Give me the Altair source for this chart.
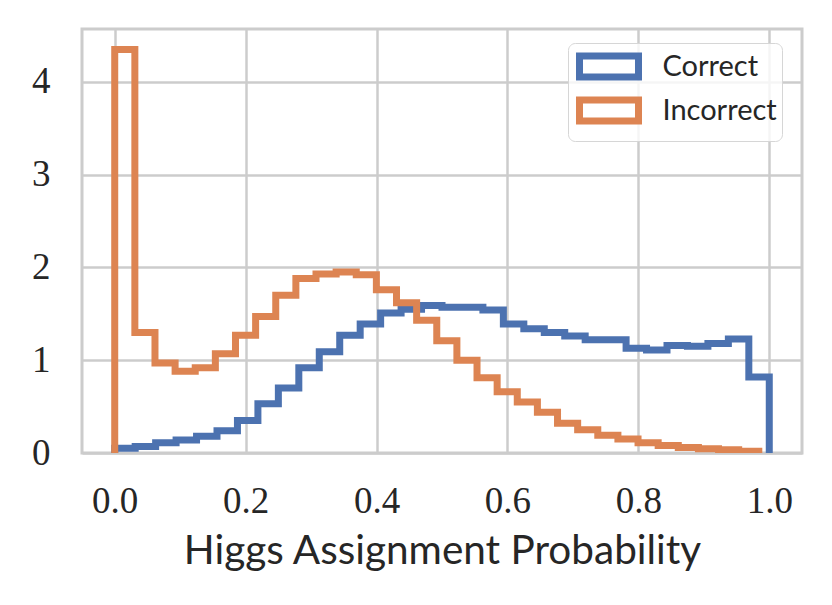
import altair as alt
import numpy as np
import pandas as pd

# Density per bin (32 bins each)
correct_vals = [0.05, 0.07, 0.11, 0.14, 0.18, 0.24, 0.35, 0.53, 0.70, 0.92,
                1.09, 1.27, 1.39, 1.51, 1.55, 1.59, 1.57, 1.57, 1.54, 1.39,
                1.34, 1.30, 1.26, 1.22, 1.22, 1.13, 1.11, 1.16, 1.15, 1.18,
                1.23, 0.82]
incorrect_vals = [4.35, 1.30, 0.97, 0.88, 0.92, 1.07, 1.27, 1.47, 1.70, 1.88,
                  1.93, 1.95, 1.92, 1.76, 1.62, 1.43, 1.21, 1.00, 0.81, 0.66,
                  0.55, 0.44, 0.32, 0.25, 0.19, 0.15, 0.11, 0.08, 0.06, 0.045,
                  0.035, 0.02]
correct_range = [0.0, 1.0]
incorrect_range = [0.0, 0.984]
series_names = ["Correct", "Incorrect"]
series_colors = ["#4c72b0", "#dd8452"]
x_ticks = [0.0, 0.2, 0.4, 0.6, 0.8, 1.0]
y_ticks = [0, 1, 2, 3, 4]


def step_outline(name, vals, rng):
    edges = np.linspace(rng[0], rng[1], len(vals) + 1)
    pts = [(edges[0], 0.0)]
    for i, h in enumerate(vals):
        pts.append((edges[i], h))
        pts.append((edges[i + 1], h))
    pts.append((edges[-1], 0.0))
    return pd.DataFrame({"x": [p[0] for p in pts], "y": [p[1] for p in pts],
                         "idx": list(range(len(pts))), "series": name})


df = pd.concat([
    step_outline("Correct", correct_vals, correct_range),
    step_outline("Incorrect", incorrect_vals, incorrect_range),
], ignore_index=True)

chart = alt.Chart(df).mark_line(strokeWidth=7, strokeJoin="miter", clip=True).encode(
    x=alt.X("x:Q", scale=alt.Scale(domain=[-0.05, 1.05], nice=False, zero=False),
            axis=alt.Axis(values=x_ticks, format=".1f", title="Higgs Assignment Probability")),
    y=alt.Y("y:Q", scale=alt.Scale(domain=[0, 4.57], nice=False),
            axis=alt.Axis(values=y_ticks, format="d", title=None)),
    color=alt.Color("series:N", scale=alt.Scale(domain=series_names, range=series_colors),
                    legend=alt.Legend(title=None, orient="none", legendX=486, legendY=14,
                                      symbolType="M-2,-0.72H2V0.72H-2Z", symbolSize=870,
                                      symbolStrokeWidth=7, symbolFillColor="white",
                                      symbolOffset=17.5,
                                      labelFont="Lato", labelFontSize=29, labelColor="#262626",
                                      labelOffset=35, rowPadding=-10, padding=5,
                                      fillColor="rgba(255,255,255,0.8)", strokeColor="#d6d6d6",
                                      cornerRadius=7)),
    order="idx:Q",
).properties(
    width=720, height=424,
    autosize=alt.AutoSizeParams(type="none"),
    padding={"left": 74, "top": 21, "right": 22, "bottom": 130},
).configure_view(
    stroke="#cccccc", strokeWidth=3
).configure_axis(
    grid=True, gridColor="#cccccc", gridWidth=2.5, ticks=False, domain=False,
    labelFont="Liberation Serif", labelFontSize=37, labelColor="#262626",
    titleFont="Lato", titleFontSize=40.5, titleFontWeight="normal", titleColor="#262626",
).configure_axisX(
    labelPadding=30, titlePadding=12
).configure_axisY(
    labelPadding=32
)

chart.save("out.html", embed_options={"renderer": "svg", "actions": False})
